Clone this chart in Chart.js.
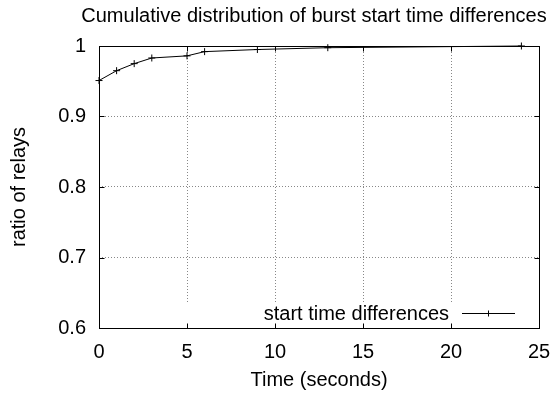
<!DOCTYPE html>
<html>
<head>
<meta charset="utf-8">
<script src="https://cdn.jsdelivr.net/npm/chart.js@4"></script>
<style>
html,body{margin:0;padding:0;background:#fff;}
#wrap{width:554px;height:393px;}
</style>
</head>
<body>
<div id="wrap"><canvas id="c" width="554" height="393"></canvas></div>
<script>
// ---- data ----
const timeSeconds = [0, 1, 2, 3, 5, 6, 9, 13, 24];
const ratioOfRelays = [0.951, 0.965, 0.975, 0.983, 0.986, 0.992, 0.995, 0.9976, 1.0];
const xTickValues = [0, 5, 10, 15, 20, 25];
const yTickValues = [0.6, 0.7, 0.8, 0.9, 1];
const yTickLabels = ['0.6', '0.7', '0.8', '0.9', '1'];
const chartTitle = 'Cumulative distribution of burst start time differences';
const xAxisTitle = 'Time (seconds)';
const yAxisTitle = 'ratio of relays';
const seriesName = 'start time differences';

const FONT = '"Liberation Sans", Arial, Helvetica, sans-serif';

const points = timeSeconds.map((t, i) => ({x: t, y: ratioOfRelays[i]}));

function drawCross(ctx, x, y, r) {
  ctx.beginPath();
  ctx.moveTo(x - r, y); ctx.lineTo(x + r, y);
  ctx.moveTo(x, y - r); ctx.lineTo(x, y + r);
  ctx.stroke();
}

const gnuplotFrame = {
  id: 'gnuplotFrame',
  beforeDatasetsDraw(chart) {
    const ctx = chart.ctx, a = chart.chartArea;
    // key box hides grid lines (as gnuplot does)
    ctx.save();
    ctx.fillStyle = '#fff';
    ctx.fillRect(a.left + 2, 304, a.right - a.left - 4, a.bottom - 304 - 1);
    ctx.restore();
  },
  afterDatasetsDraw(chart) {
    const ctx = chart.ctx, a = chart.chartArea;
    const xs = chart.scales.x, ys = chart.scales.y;
    ctx.save();
    ctx.strokeStyle = '#000';
    ctx.lineWidth = 1;
    const L = Math.round(a.left) + 0.5, R = Math.round(a.right) + 0.5;
    const T = Math.round(a.top) + 0.5, B = Math.round(a.bottom) + 0.5;
    ctx.strokeRect(L, T, R - L, B - T);
    const tl = 5;
    ctx.beginPath();
    xTickValues.forEach(v => {
      const px = Math.round(xs.getPixelForValue(v)) + 0.5;
      ctx.moveTo(px, B); ctx.lineTo(px, B - tl);
      ctx.moveTo(px, T); ctx.lineTo(px, T + tl);
    });
    yTickValues.forEach(v => {
      const py = Math.round(ys.getPixelForValue(v)) + 0.5;
      ctx.moveTo(L, py); ctx.lineTo(L + tl, py);
      ctx.moveTo(R, py); ctx.lineTo(R - tl, py);
    });
    ctx.stroke();
    // legend (key)
    ctx.font = '20px ' + FONT;
    ctx.fillStyle = '#000';
    ctx.textAlign = 'right';
    ctx.textBaseline = 'middle';
    ctx.fillText(seriesName, 449, 314);
    ctx.beginPath();
    ctx.moveTo(462, 313.5); ctx.lineTo(515, 313.5);
    ctx.stroke();
    drawCross(ctx, 488.5, 313.5, 3);
    // titles
    ctx.textAlign = 'center';
    ctx.fillText(chartTitle, 314, 16);
    ctx.fillText(xAxisTitle, (a.left + a.right) / 2, 380);
    ctx.translate(19, (a.top + a.bottom) / 2);
    ctx.rotate(-Math.PI / 2);
    ctx.fillText(yAxisTitle, 0, 0);
    ctx.restore();
  }
};

new Chart(document.getElementById('c'), {
  type: 'line',
  data: {
    datasets: [{
      label: seriesName,
      data: points,
      borderColor: '#000',
      borderWidth: 1,
      backgroundColor: '#000',
      pointStyle: 'cross',
      pointRadius: 3.5,
      pointBorderWidth: 1,
      pointBorderColor: '#000',
      tension: 0,
      fill: false,
      clip: false
    }]
  },
  options: {
    responsive: false,
    animation: false,
    devicePixelRatio: 1,
    layout: {autoPadding: false, padding: {top: 46, right: 15, left: 0, bottom: 0}},
    plugins: {legend: {display: false}, title: {display: false}, tooltip: {enabled: false}},
    scales: {
      x: {
        type: 'linear', min: 0, max: 25,
        afterFit(s) { s.height = 65; s.paddingLeft = 0; s.paddingRight = 0; },
        afterBuildTicks(s) { s.ticks = xTickValues.map(v => ({value: v})); },
        grid: {display: true, drawTicks: false, color: '#888', lineWidth: 1},
        border: {display: false, dash: [1, 2]},
        ticks: {
          padding: 12, color: '#000', maxRotation: 0, autoSkip: false,
          font: {family: FONT, size: 20},
          callback: (v) => String(v)
        }
      },
      y: {
        type: 'linear', min: 0.6, max: 1,
        afterFit(s) { s.width = 99; s.paddingTop = 0; s.paddingBottom = 0; },
        afterBuildTicks(s) { s.ticks = yTickValues.map(v => ({value: v})); },
        grid: {display: true, drawTicks: false, color: '#888', lineWidth: 1},
        border: {display: false, dash: [1, 2]},
        ticks: {
          padding: 13, color: '#000', autoSkip: false,
          font: {family: FONT, size: 20},
          callback: (v) => yTickLabels[yTickValues.findIndex(t => Math.abs(t - v) < 1e-9)]
        }
      }
    }
  },
  plugins: [gnuplotFrame]
});
</script>
</body>
</html>
